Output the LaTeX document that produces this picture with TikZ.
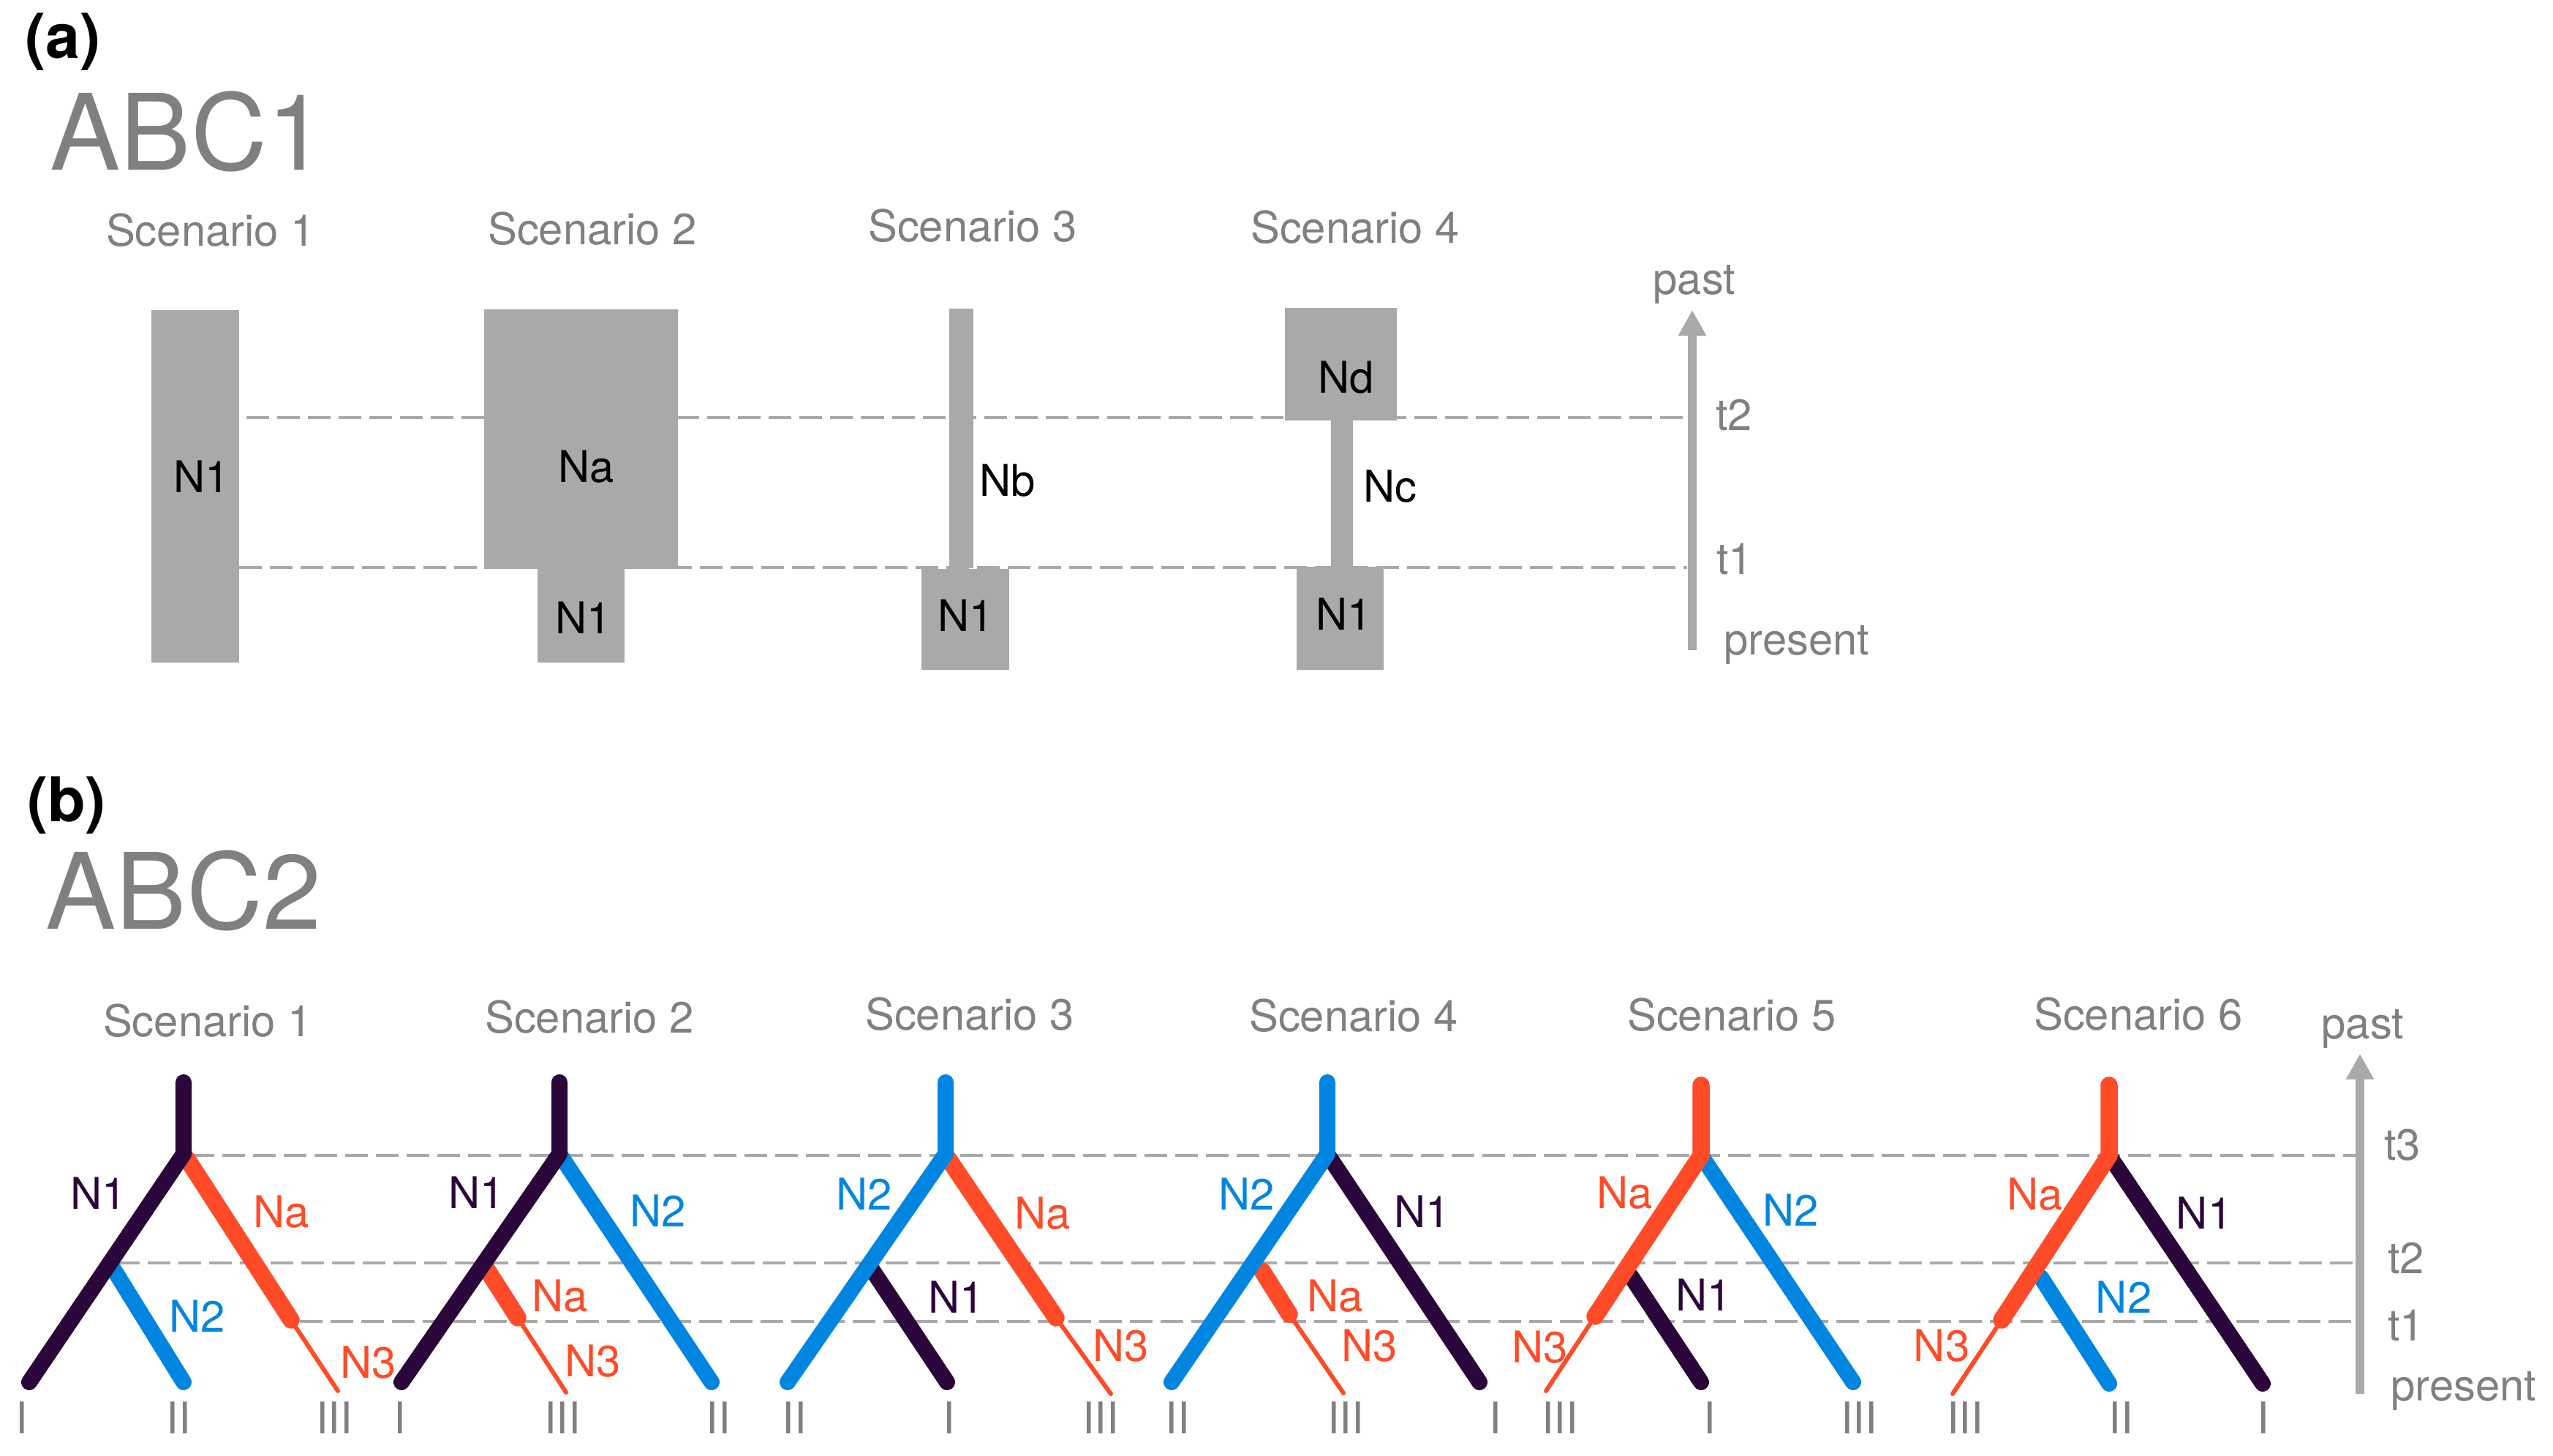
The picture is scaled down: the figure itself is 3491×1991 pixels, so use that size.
\documentclass[tikz,border=0pt]{standalone}
\usepackage{fontspec}
\setmainfont{TeX Gyre Heros}
\usetikzlibrary{arrows.meta}

\definecolor{popdark}{RGB}{43,6,59}
\definecolor{popblue}{RGB}{0,134,224}
\definecolor{poporange}{RGB}{255,75,40}
\definecolor{txtgray}{RGB}{128,128,128}
\definecolor{linegray}{RGB}{169,169,169}

\tikzset{
  lbl/.style={inner sep=0pt, font=\fontsize{17}{20}\selectfont},
  scen/.style={lbl, text=txtgray},
  paneltag/.style={inner sep=0pt, font=\fontsize{24}{28}\selectfont\bfseries},
  abctitle/.style={inner sep=0pt, text=txtgray, font=\fontsize{41}{48}\selectfont},
  popbox/.style={fill=linegray},
  timeline/.style={draw=linegray, line width=0.045cm, dash pattern=on 0.31cm off 0.11cm},
  timeaxis/.style={draw=linegray, line width=0.12cm, -{Triangle[length=0.35cm,width=0.36cm]}},
  branch/.style={line width=0.22cm, line cap=round, line join=round},
  founder/.style={line width=0.235cm, line cap=round, line join=round, draw=poporange},
  bottleneck/.style={line width=0.06cm, line cap=round, draw=poporange},
}

\begin{document}
\begin{tikzpicture}[x=0.01cm,y=-0.01cm]
\useasboundingbox (0,0) rectangle (3491,1991);

% panel titles
\node[paneltag] (tagA) at (86,57) {(a)};
\node[abctitle, anchor=west] (abcA) at (68,180) {ABC1};
\node[paneltag] (tagB) at (91,1101) {(b)};
\node[abctitle, anchor=west] (abcB) at (62,1218) {ABC2};

% ---------------- ABC1 ----------------
% time lines
\draw[timeline] (337,571) -- (2307,571);
\draw[timeline] (327,776) -- (2307,776);

% population sizes
\fill[popbox] (207,424) rectangle (327,906);
\fill[popbox] (662,423) rectangle (927,778);
\fill[popbox] (735,778) rectangle (854,906);
\fill[popbox] (1298,422) rectangle (1331,777);
\fill[popbox] (1260,778) rectangle (1380,916);
\fill[popbox] (1757,421) rectangle (1910,575);
\fill[popbox] (1820,575) rectangle (1850,776);
\fill[popbox] (1773,775) rectangle (1892,916);

% size labels
\foreach \n/\x/\y/\t in {aN1/276/652/N1, aNa/802/638/Na, bN1/798/845/N1,
    cNb/1378/657/Nb, cN1/1321/842/N1, dNd/1841/516/Nd, dNc/1901/665/Nc, dN1/1838/840/N1}
  \node[lbl] (\n) at (\x,\y) {\t};

% scenario headers
\foreach \i/\x/\y in {1/288/315, 2/810/313, 3/1330/309, 4/1853/311}
  \node[scen] (headA\i) at (\x,\y) {Scenario \i};

% time axis
\draw[timeaxis] (2314,889) -- (2314,424);
\node[scen] (pastA) at (2317,389) {past};
\node[scen] (tA2) at (2371,568) {t2};
\node[scen] (tA1) at (2372,765) {t1};
\node[scen] (presA) at (2457,882) {present};

% ---------------- ABC2 ----------------
% time lines
\draw[timeline] (262,1580) -- (3221,1580);
\draw[timeline] (160,1727) -- (3221,1727);
\draw[timeline] (410,1807) -- (3221,1807);

% scenario 1
\coordinate (s1top) at (251,1480);
\coordinate (s1root) at (251,1578);
\coordinate (s1left) at (40,1890);
\coordinate (s1split) at (150,1727);
\coordinate (s1mid) at (251,1890);
\coordinate (s1na) at (256,1585);
\coordinate (s1neck) at (398,1805);
\coordinate (s1three) at (462,1902);
\draw[bottleneck] (s1neck) -- (s1three);
\draw[founder] (s1na) -- (s1neck);
\draw[branch, draw=popblue] (s1split) -- (s1mid);
\draw[branch, draw=popdark] (s1top) -- (s1root) -- (s1left);

% scenario 2
\coordinate (s2top) at (765,1480);
\coordinate (s2root) at (765,1578);
\coordinate (s2left) at (549,1890);
\coordinate (s2right) at (973,1890);
\coordinate (s2split) at (664,1733);
\coordinate (s2neck) at (708,1802);
\coordinate (s2three) at (774,1904);
\draw[branch, draw=popblue] (s2root) -- (s2right);
\draw[bottleneck] (s2neck) -- (s2three);
\draw[founder] (s2split) -- (s2neck);
\draw[branch, draw=popdark] (s2top) -- (s2root) -- (s2left);

% scenario 3
\coordinate (s3top) at (1293,1480);
\coordinate (s3root) at (1293,1578);
\coordinate (s3left) at (1077,1890);
\coordinate (s3na) at (1297,1585);
\coordinate (s3neck) at (1444,1802);
\coordinate (s3three) at (1519,1906);
\coordinate (s3split) at (1193,1737);
\coordinate (s3mid) at (1295,1890);
\draw[bottleneck] (s3neck) -- (s3three);
\draw[founder] (s3na) -- (s3neck);
\draw[branch, draw=popdark] (s3split) -- (s3mid);
\draw[branch, draw=popblue] (s3top) -- (s3root) -- (s3left);

% scenario 4
\coordinate (s4top) at (1815,1480);
\coordinate (s4root) at (1815,1578);
\coordinate (s4left) at (1602,1890);
\coordinate (s4right) at (2023,1890);
\coordinate (s4split) at (1726,1738);
\coordinate (s4neck) at (1763,1797);
\coordinate (s4three) at (1837,1905);
\draw[branch, draw=popdark] (s4root) -- (s4right);
\draw[bottleneck] (s4neck) -- (s4three);
\draw[founder] (s4split) -- (s4neck);
\draw[branch, draw=popblue] (s4top) -- (s4root) -- (s4left);

% scenario 5
\coordinate (s5top) at (2326,1484);
\coordinate (s5root) at (2326,1580);
\coordinate (s5neck) at (2181,1800);
\coordinate (s5three) at (2114,1902);
\coordinate (s5right) at (2534,1890);
\coordinate (s5split) at (2230,1745);
\coordinate (s5mid) at (2326,1890);
\draw[branch, draw=popblue] (s5root) -- (s5right);
\draw[branch, draw=popdark] (s5split) -- (s5mid);
\draw[bottleneck] (s5neck) -- (s5three);
\draw[founder] (s5top) -- (s5root) -- (s5neck);

% scenario 6
\coordinate (s6top) at (2884,1484);
\coordinate (s6root) at (2884,1580);
\coordinate (s6neck) at (2737,1805);
\coordinate (s6three) at (2670,1906);
\coordinate (s6right) at (3094,1892);
\coordinate (s6split) at (2791,1747);
\coordinate (s6mid) at (2884,1892);
\draw[branch, draw=popdark] (s6root) -- (s6right);
\draw[branch, draw=popblue] (s6split) -- (s6mid);
\draw[bottleneck] (s6neck) -- (s6three);
\draw[founder] (s6top) -- (s6root) -- (s6neck);

% branch labels
\foreach \n/\x/\y/\c/\t in {
    l1a/135/1632/popdark/N1, l1b/385/1657/poporange/Na, l1c/270/1800/popblue/N2, l1d/504/1863/poporange/N3,
    l2a/652/1631/popdark/N1, l2b/900/1656/popblue/N2, l2c/766/1772/poporange/Na, l2d/811/1861/poporange/N3,
    l3a/1182/1633/popblue/N2, l3b/1426/1659/poporange/Na, l3c/1308/1774/popdark/N1, l3d/1533/1840/poporange/N3,
    l4a/1705/1633/popblue/N2, l4b/1945/1657/popdark/N1, l4c/1826/1772/poporange/Na, l4d/1873/1840/poporange/N3,
    l5a/2222/1631/poporange/Na, l5b/2449/1655/popblue/N2, l5c/2330/1771/popdark/N1, l5d/2106/1842/poporange/N3,
    l6a/2783/1633/poporange/Na, l6b/3014/1659/popdark/N1, l6c/2904/1774/popblue/N2, l6d/2655/1840/poporange/N3}
  \node[lbl, text=\c] (\n) at (\x,\y) {\t};

% sample labels
\foreach \n/\x/\t in {r1a/30/I, r1b/244/II, r1c/457/III,
    r2a/547/I, r2b/769/III, r2c/982/II,
    r3a/1086/II, r3b/1298/I, r3c/1505/III,
    r4a/1610/II, r4b/1840/III, r4c/2045/I,
    r5a/2133/III, r5b/2338/I, r5c/2542/III,
    r6a/2687/III, r6b/2900/II, r6c/3095/I}
  \node[scen] (\n) at (\x,1939) {\t};

% scenario headers
\foreach \i/\x/\y in {1/284/1396, 2/806/1391, 3/1326/1387, 4/1851/1389, 5/2368/1388, 6/2924/1387}
  \node[scen] (headB\i) at (\x,\y) {Scenario \i};

% time axis
\draw[timeaxis] (3227,1906) -- (3227,1441);
\node[scen] (pastB) at (3231,1407) {past};
\node[scen] (tB3) at (3285,1566) {t3};
\node[scen] (tB2) at (3290,1720) {t2};
\node[scen] (tB1) at (3290,1812) {t1};
\node[scen] (presB) at (3369,1902) {present};
\end{tikzpicture}
\end{document}
